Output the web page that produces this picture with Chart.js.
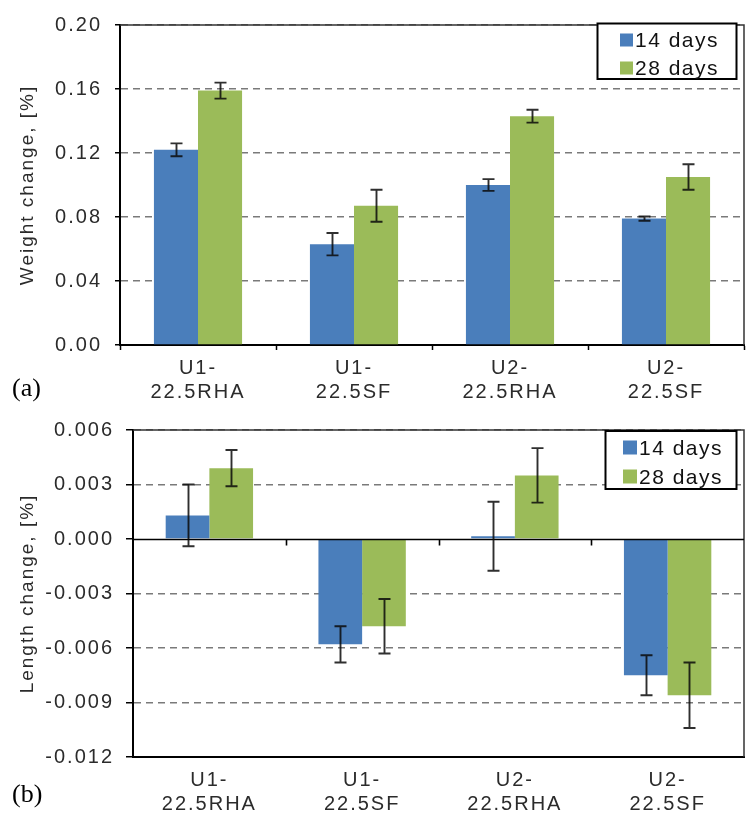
<!DOCTYPE html>
<html>
<head>
<meta charset="utf-8">
<script src="https://cdn.jsdelivr.net/npm/chart.js@4.4.1/dist/chart.umd.min.js"></script>
<style>
  html, body { margin: 0; padding: 0; background: #fff; }
  #wrap { position: relative; width: 747px; height: 814px; overflow: hidden; }
  #wrap canvas { position: absolute; left: 0; }
  #weightChart { top: 0; }
  #lengthChart { top: 400px; }
  .panel {
    position: absolute; left: 12px;
    font: 26px "Liberation Serif", "Times New Roman", serif;
    line-height: 26px; color: #000;
  }
</style>
</head>
<body>
<div id="wrap">
  <canvas id="weightChart" width="747" height="400"></canvas>
  <canvas id="lengthChart" width="747" height="414"></canvas>
  <div class="panel" style="top:375px">(a)</div>
  <div class="panel" style="top:781px">(b)</div>
</div>
<script>
// ---- data -------------------------------------------------------------
const mixes = [["U1-", "22.5RHA"], ["U1-", "22.5SF"], ["U2-", "22.5RHA"], ["U2-", "22.5SF"]];
const ages = ["14 days", "28 days"];

const weight14 = [0.122, 0.063, 0.100, 0.079];
const weight28 = [0.159, 0.087, 0.143, 0.105];
const weight14Err = [0.004, 0.007, 0.0037, 0.0013];
const weight28Err = [0.005, 0.010, 0.004, 0.008];
const weightTicks = [0, 0.04, 0.08, 0.12, 0.16, 0.20];

const length14 = [0.0013, -0.0058, 0.00015, -0.0075];
const length28 = [0.0039, -0.0048, 0.0035, -0.0086];
const length14Err = [0.0017, 0.0010, 0.0019, 0.0011];
const length28Err = [0.0010, 0.0015, 0.0015, 0.0018];
const lengthTicks = [-0.012, -0.009, -0.006, -0.003, 0, 0.003, 0.006];

const BLUE = "#4A7EBB";
const GREEN = "#9BBB59";
const FONT = '"Liberation Sans", Arial, sans-serif';

// ---- plugins ----------------------------------------------------------
// the old Excel export has widely tracked text
const tracking = {
  id: "tracking",
  beforeLayout(chart) { chart.ctx.letterSpacing = "2px"; },
  beforeDraw(chart) { chart.ctx.letterSpacing = "2px"; }
};

// plot frame (top + right), optional zero line with category ticks
const frame = {
  id: "frame",
  afterDatasetsDraw(chart, args, opts) {
    const { ctx, chartArea: a, scales: { x, y } } = chart;
    ctx.save();
    ctx.strokeStyle = "#333";
    ctx.lineWidth = 1.5;
    ctx.beginPath();
    ctx.moveTo(a.left, a.top);
    ctx.lineTo(a.right, a.top);
    ctx.lineTo(a.right, a.bottom);
    ctx.stroke();
    if (opts.zeroLine) {
      const y0 = Math.round(y.getPixelForValue(0)) + 0.5;
      ctx.strokeStyle = "#000";
      ctx.lineWidth = 1.6;
      ctx.beginPath();
      ctx.moveTo(a.left, y0);
      ctx.lineTo(a.right, y0);
      for (let i = 1; i < x.ticks.length; i++) {
        const bx = Math.round((x.getPixelForValue(i - 1) + x.getPixelForValue(i)) / 2) + 0.5;
        ctx.moveTo(bx, y0);
        ctx.lineTo(bx, y0 + 6);
      }
      ctx.stroke();
    }
    ctx.restore();
  }
};

// +/- error whiskers, read from dataset.errors
const errorBars = {
  id: "errorBars",
  afterDatasetsDraw(chart, args, opts) {
    const { ctx, scales: { y } } = chart;
    ctx.save();
    ctx.strokeStyle = opts.color;
    ctx.lineWidth = opts.width;
    chart.data.datasets.forEach((ds, i) => {
      chart.getDatasetMeta(i).data.forEach((bar, j) => {
        const v = ds.data[j], e = ds.errors[j];
        const top = y.getPixelForValue(v + e);
        const bot = y.getPixelForValue(v - e);
        const x = Math.round(bar.x) + 0.5;
        ctx.beginPath();
        ctx.moveTo(x, top); ctx.lineTo(x, bot);
        ctx.moveTo(x - opts.cap, top); ctx.lineTo(x + opts.cap, top);
        ctx.moveTo(x - opts.cap, bot); ctx.lineTo(x + opts.cap, bot);
        ctx.stroke();
      });
    });
    ctx.restore();
  }
};

// boxed legend in the upper right corner
const boxLegend = {
  id: "boxLegend",
  afterDraw(chart, args, o) {
    const { ctx } = chart;
    ctx.save();
    ctx.fillStyle = "#fff";
    ctx.fillRect(o.left, o.top, o.width, o.height);
    ctx.strokeStyle = "#000";
    ctx.lineWidth = 2;
    ctx.strokeRect(o.left, o.top, o.width, o.height);
    ctx.font = "21px " + FONT;
    ctx.letterSpacing = "1.5px";
    ctx.textBaseline = "alphabetic";
    chart.data.datasets.forEach((ds, i) => {
      const base = o.baseline + i * o.rowGap;
      ctx.fillStyle = ds.backgroundColor;
      ctx.fillRect(o.squareX, base - o.square, o.square, o.square);
      ctx.fillStyle = "#111";
      ctx.fillText(ds.label, o.textX, base);
    });
    ctx.restore();
  }
};

// ---- shared chart builder --------------------------------------------
function barChart(id, cfg) {
  const isZero = v => Math.abs(v) < 1e-9;
  return new Chart(document.getElementById(id), {
    type: "bar",
    data: {
      labels: mixes,
      datasets: [
        { label: ages[0], data: cfg.s14, errors: cfg.e14, backgroundColor: BLUE },
        { label: ages[1], data: cfg.s28, errors: cfg.e28, backgroundColor: GREEN }
      ]
    },
    options: {
      responsive: false,
      animation: false,
      layout: { padding: { top: cfg.top, right: 3, left: 0, bottom: 0 } },
      datasets: {
        bar: { categoryPercentage: cfg.catPct, barPercentage: 1, borderWidth: 0 }
      },
      plugins: {
        legend: { display: false },
        tooltip: { enabled: false },
        errorBars: { color: "rgba(10,10,10,0.85)", width: 1.9, cap: 6 },
        frame: { zeroLine: cfg.zeroLine },
        boxLegend: cfg.legend
      },
      scales: {
        x: {
          afterFit(scale) { scale.height = cfg.xHeight; },
          grid: {
            offset: true,
            drawOnChartArea: false,
            tickLength: 5,
            tickColor: cfg.zeroLine ? "transparent" : "#000",
            tickWidth: 1.5
          },
          border: { color: "#000", width: 2 },
          ticks: {
            autoSkip: false, maxRotation: 0, padding: 6,
            color: "#2b2b2b",
            font: { family: FONT, size: 20, lineHeight: 1.2 }
          }
        },
        y: {
          min: cfg.ticks[0],
          max: cfg.ticks[cfg.ticks.length - 1],
          afterFit(scale) { scale.width = cfg.yWidth; },
          afterBuildTicks(scale) { scale.ticks = cfg.ticks.map(value => ({ value })); },
          grid: {
            color: c => (isZero(c.tick.value) ? "transparent" : "#7a7a7a"),
            lineWidth: 1.5,
            tickLength: cfg.tickLen,
            tickColor: "#000",
            tickWidth: 1.5
          },
          border: { color: "#000", width: 2, dash: [7, 5] },
          title: {
            display: true,
            text: cfg.title,
            color: "#2b2b2b",
            font: { family: FONT, size: 19 },
            padding: { top: 16, bottom: 0 }
          },
          ticks: {
            padding: cfg.tickPad,
            color: "#2b2b2b",
            font: { family: FONT, size: 20 },
            callback: v => Number(v).toFixed(cfg.digits)
          }
        }
      }
    },
    plugins: [tracking, frame, errorBars, boxLegend]
  });
}

// ---- (a) weight change -----------------------------------------------
barChart("weightChart", {
  s14: weight14, s28: weight28, e14: weight14Err, e28: weight28Err,
  ticks: weightTicks, digits: 2,
  title: "Weight change, [%]",
  top: 20, yWidth: 120, xHeight: 55, tickLen: 5, tickPad: 13,
  catPct: 0.565, zeroLine: false,
  legend: { left: 597.5, top: 23.5, width: 139, height: 55.5,
            squareX: 620, square: 13, textX: 635, baseline: 46.5, rowGap: 28 }
});

// ---- (b) length change -----------------------------------------------
barChart("lengthChart", {
  s14: length14, s28: length28, e14: length14Err, e28: length28Err,
  ticks: lengthTicks, digits: 3,
  title: "Length change, [%]",
  top: 30, yWidth: 133, xHeight: 57, tickLen: 7, tickPad: 12,
  catPct: 0.572, zeroLine: true,
  legend: { left: 605.5, top: 31, width: 131, height: 58,
            squareX: 623, square: 14, textX: 639, baseline: 54.5, rowGap: 29 }
});
</script>
</body>
</html>
